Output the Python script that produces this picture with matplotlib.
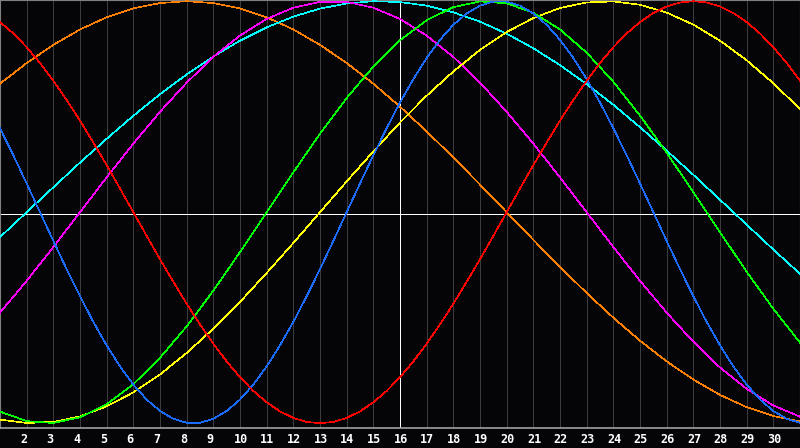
import matplotlib
matplotlib.use("Agg")
import matplotlib.pyplot as plt

# Day numbers shown on the chart (1..31)
days = list(range(1, 32))
half_days = [1 + 0.5 * i for i in range(61)]
tick_days = list(range(2, 31))
tick_labels = [str(d) for d in tick_days]

# Curve values (-1 .. 1)
# fast cycles: one value per half day
physical = [0.398, 0.270, 0.136, 0.0, -0.136, -0.270, -0.398, -0.520, -0.631, -0.731,
            -0.817, -0.888, -0.942, -0.979, -0.998, -0.998, -0.979, -0.942, -0.888, -0.817,
            -0.731, -0.631, -0.520, -0.398, -0.270, -0.136, 0.0, 0.136, 0.270, 0.398,
            0.520, 0.631, 0.731, 0.817, 0.888, 0.942, 0.979, 0.998, 0.998, 0.979,
            0.942, 0.888, 0.817, 0.731, 0.631, 0.520, 0.398, 0.270, 0.136, 0.0,
            -0.136, -0.270, -0.398, -0.520, -0.631, -0.731, -0.817, -0.888, -0.942, -0.979,
            -0.998]
emotional = [0.901, 0.847, 0.782, 0.707, 0.623, 0.532, 0.434, 0.330, 0.223, 0.112,
             0.0, -0.112, -0.223, -0.330, -0.434, -0.532, -0.623, -0.707, -0.782, -0.847,
             -0.901, -0.944, -0.975, -0.994, -1.0, -0.994, -0.975, -0.944, -0.901, -0.847,
             -0.782, -0.707, -0.623, -0.532, -0.434, -0.330, -0.223, -0.112, 0.0, 0.112,
             0.223, 0.330, 0.434, 0.532, 0.623, 0.707, 0.782, 0.847, 0.901, 0.944,
             0.975, 0.994, 1.0, 0.994, 0.975, 0.944, 0.901, 0.847, 0.782, 0.707,
             0.623]
# slower cycles: one value per day
intellectual = [-0.945, -0.990, -0.999, -0.972, -0.910, -0.815, -0.690, -0.541, -0.372, -0.189,
                0.0, 0.189, 0.372, 0.541, 0.690, 0.815, 0.910, 0.972, 0.999, 0.990,
                0.945, 0.866, 0.756, 0.618, 0.458, 0.282, 0.095, -0.095, -0.282, -0.458, -0.618]
intuitive = [-0.476, -0.325, -0.165, 0.0, 0.165, 0.325, 0.476, 0.614, 0.736, 0.837,
             0.916, 0.969, 0.997, 0.997, 0.969, 0.916, 0.837, 0.736, 0.614, 0.476,
             0.325, 0.165, 0.0, -0.165, -0.325, -0.476, -0.614, -0.736, -0.837, -0.916, -0.969]
aesthetic = [-0.983, -0.999, -0.994, -0.968, -0.920, -0.854, -0.769, -0.667, -0.552, -0.425,
             -0.288, -0.146, 0.0, 0.146, 0.288, 0.425, 0.552, 0.667, 0.769, 0.854,
             0.920, 0.968, 0.994, 0.999, 0.983, 0.946, 0.889, 0.813, 0.720, 0.611, 0.489]
awareness = [0.609, 0.707, 0.793, 0.866, 0.924, 0.966, 0.991, 1.0, 0.991, 0.966,
             0.924, 0.866, 0.793, 0.707, 0.609, 0.5, 0.383, 0.259, 0.131, 0.0,
             -0.131, -0.259, -0.383, -0.5, -0.609, -0.707, -0.793, -0.866, -0.924, -0.966, -0.991]
spiritual = [-0.118, 0.0, 0.118, 0.235, 0.348, 0.457, 0.559, 0.653, 0.738, 0.813,
             0.876, 0.927, 0.965, 0.989, 1.0, 0.996, 0.979, 0.947, 0.903, 0.846,
             0.777, 0.697, 0.607, 0.509, 0.403, 0.292, 0.177, 0.059, -0.059, -0.177, -0.292]

series = [
    (days, awareness, "#ff8000"),
    (days, spiritual, "#00ffff"),
    (days, intuitive, "#ff00ff"),
    (days, aesthetic, "#ffff00"),
    (days, intellectual, "#00ff00"),
    (half_days, physical, "#1a6cff"),
    (half_days, emotional, "#ff0000"),
]

BG = "#050508"
fig = plt.figure(figsize=(8.0, 4.48), dpi=100, facecolor=BG)
ax = fig.add_axes([0.0, 20 / 448, 1.0, 428 / 448])
ax.set_facecolor(BG)
ax.set_xlim(days[0], days[-1])
ax.set_ylim(-1.0227, 1.0057)

# vertical day grid
for d in tick_days:
    ax.axvline(d, color="#3c3c3c", lw=0.45, antialiased=False, zorder=1)
# centre cross
ax.axvline(16, color="#ffffff", lw=0.45, antialiased=False, zorder=2)
ax.plot([0, 1], [0.5, 0.5], transform=ax.transAxes, color="#ffffff", lw=0.45,
        antialiased=False, zorder=2)

for xs, vals, col in series:
    ax.plot(xs, vals, color=col, lw=0.45, antialiased=False, zorder=3)

for side in ["top", "left", "right"]:
    ax.spines[side].set_color("#808080")
    ax.spines[side].set_linewidth(0.8)
ax.spines["bottom"].set_color("#a0a0a0")
ax.spines["bottom"].set_linewidth(1.2)

ax.set_xticks([])
ax.set_yticks([])
for d, lab in zip(tick_days, tick_labels):
    off = -2.2 if len(lab) == 1 else 0.5
    ax.annotate(lab, xy=(d, 0), xycoords=("data", "axes fraction"),
                xytext=(off, -8.2), textcoords="offset points",
                ha="center", va="center", color="#ffffff",
                fontsize=8.5, fontweight="bold", family="DejaVu Sans Mono",
                annotation_clip=False)

fig.savefig("out.png", dpi=100, facecolor=BG)
